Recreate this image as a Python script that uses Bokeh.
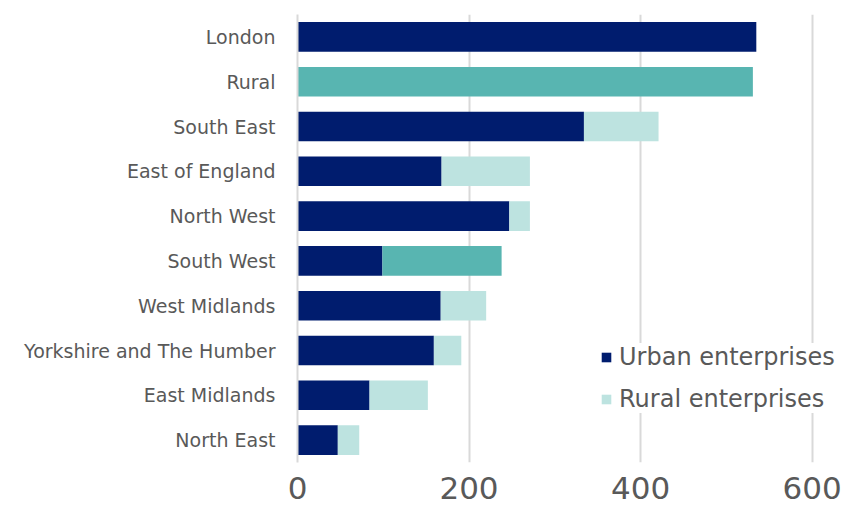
from bokeh.plotting import figure
from bokeh.models import FactorRange, Range1d, FixedTicker, Legend, LegendItem, ColumnDataSource
from bokeh.embed import file_html
from bokeh.resources import INLINE

regions = ["London", "Rural", "South East", "East of England", "North West",
           "South West", "West Midlands", "Yorkshire and The Humber",
           "East Midlands", "North East"]
urban = [535, 0, 334, 168, 247, 99, 167, 159, 84, 47]
rural = [0, 531, 87, 103, 24, 139, 53, 32, 68, 25]
highlight = ["Rural", "South West"]
x_ticks = [0, 200, 400, 600]

NAVY = "#001C6E"
LIGHT = "#BDE3E0"
MID = "#58B5B1"
GREY_TXT = "#595959"
GRID = "#D9D9D9"
FONT = "DejaVu Sans"

totals = [u + r for u, r in zip(urban, rural)]
rcolors = [MID if reg in highlight else LIGHT for reg in regions]
src = ColumnDataSource(dict(region=regions, urban=urban, total=totals, rcolor=rcolors))

p = figure(width=845, height=507, output_backend="svg", toolbar_location=None,
           y_range=FactorRange(*reversed(regions)), x_range=Range1d(0, 639),
           min_border_left=297, min_border_right=0, min_border_top=14, min_border_bottom=45)
p.outline_line_color = None

r_urban = p.hbar(y="region", left=0, right="urban", height=0.66, source=src,
                 fill_color=NAVY, line_color=None)
r_rural = p.hbar(y="region", left="urban", right="total", height=0.66, source=src,
                 fill_color="rcolor", line_color=None)

p.xaxis.ticker = FixedTicker(ticks=x_ticks)
p.xaxis.axis_line_color = None
p.xaxis.major_tick_line_color = None
p.xaxis.minor_tick_line_color = None
p.xaxis.major_label_text_font = FONT
p.xaxis.major_label_text_font_size = "31px"
p.xaxis.major_label_text_color = GREY_TXT
p.xaxis.major_label_standoff = 8

p.yaxis.axis_line_color = GRID
p.yaxis.axis_line_width = 2
p.yaxis.major_tick_line_color = None
p.yaxis.minor_tick_line_color = None
p.yaxis.major_label_text_font = FONT
p.yaxis.major_label_text_font_size = "19px"
p.yaxis.major_label_text_color = GREY_TXT
p.yaxis.major_label_standoff = 16

p.xgrid.grid_line_color = GRID
p.xgrid.grid_line_width = 2
p.ygrid.grid_line_color = None

legend = Legend(items=[
    LegendItem(label="Urban enterprises", renderers=[r_urban], index=0),
    LegendItem(label="Rural enterprises", renderers=[r_rural], index=2),
], location=(303, 49))
legend.label_text_font = FONT
legend.label_text_font_size = "24px"
legend.label_text_color = GREY_TXT
legend.glyph_width = 12
legend.glyph_height = 12
legend.label_standoff = 7
legend.spacing = 14
legend.padding = 4
legend.border_line_color = None
legend.background_fill_color = "white"
legend.background_fill_alpha = 1
p.add_layout(legend, "center")

open("out.html", "w").write(file_html(p, INLINE))
